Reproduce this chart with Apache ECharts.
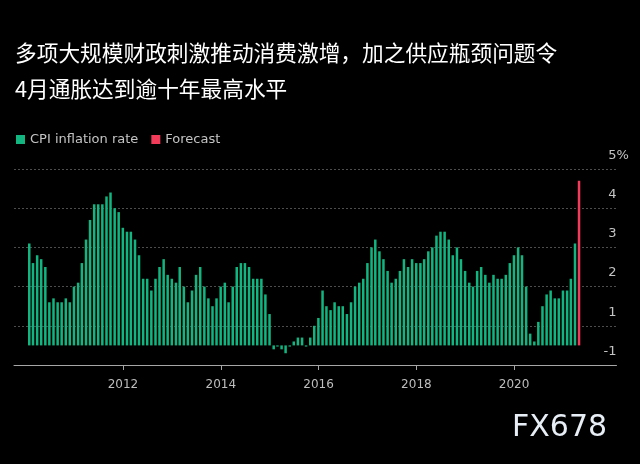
<!DOCTYPE html>
<html>
<head>
<meta charset="utf-8">
<script src="https://cdn.jsdelivr.net/npm/echarts@6.0.0/dist/echarts.min.js"></script>
<style>
html,body{margin:0;padding:0;background:#000;}
#chart{width:640px;height:464px;}
</style>
</head>
<body>
<div id="chart"></div>
<script>
// ---- data ----
const titleLines = ['多项大规模财政刺激推动消费激增，加之供应瓶颈问题令', '4月通胀达到逾十年最高水平'];
const seriesNames = ['CPI inflation rate', 'Forecast'];
const startYear = 2010; // first bar: Jan 2010
const cpi2010 = [2.6, 2.1, 2.3, 2.2, 2.0, 1.1, 1.2, 1.1, 1.1, 1.2, 1.1, 1.5];
const cpi2011 = [1.6, 2.1, 2.7, 3.2, 3.6, 3.6, 3.6, 3.8, 3.9, 3.5, 3.4, 3.0];
const cpi2012 = [2.9, 2.9, 2.7, 2.3, 1.7, 1.7, 1.4, 1.7, 2.0, 2.2, 1.8, 1.7];
const cpi2013 = [1.6, 2.0, 1.5, 1.1, 1.4, 1.8, 2.0, 1.5, 1.2, 1.0, 1.2, 1.5];
const cpi2014 = [1.6, 1.1, 1.5, 2.0, 2.1, 2.1, 2.0, 1.7, 1.7, 1.7, 1.3, 0.8];
const cpi2015 = [-0.1, -0.03, -0.1, -0.2, -0.03, 0.1, 0.2, 0.2, -0.03, 0.2, 0.5, 0.7];
const cpi2016 = [1.4, 1.0, 0.9, 1.1, 1.0, 1.0, 0.8, 1.1, 1.5, 1.6, 1.7, 2.1];
const cpi2017 = [2.5, 2.7, 2.4, 2.2, 1.9, 1.6, 1.7, 1.9, 2.2, 2.0, 2.2, 2.1];
const cpi2018 = [2.1, 2.2, 2.4, 2.5, 2.8, 2.9, 2.9, 2.7, 2.3, 2.5, 2.2, 1.9];
const cpi2019 = [1.6, 1.5, 1.9, 2.0, 1.8, 1.6, 1.8, 1.7, 1.7, 1.8, 2.1, 2.3];
const cpi2020 = [2.5, 2.3, 1.5, 0.3, 0.1, 0.6, 1.0, 1.3, 1.4, 1.2, 1.2, 1.4];
const cpi2021 = [1.4, 1.7, 2.6];
const forecastMonth = '2021-04';
const forecastValue = 4.2;
const xTickYears = [2012, 2014, 2016, 2018, 2020];
const yTickValues = [-0.5, 0.5, 1.5, 2.5, 3.5, 4.5];
const yTickLabels = ['-1', '1', '2', '3', '4', '5%'];

// ---- build ----
const cpiAll = [].concat(cpi2010, cpi2011, cpi2012, cpi2013, cpi2014, cpi2015,
  cpi2016, cpi2017, cpi2018, cpi2019, cpi2020, cpi2021);
function monthEnd(y, m) { return Date.UTC(y, m + 1, 0); } // m: 0-based
const cpiData = cpiAll.map((v, i) => [monthEnd(startYear + Math.floor(i / 12), i % 12), v]);
const fy = +forecastMonth.slice(0, 4), fm = +forecastMonth.slice(5, 7) - 1;
const forecastData = [[monthEnd(fy, fm), forecastValue]];
const xTicks = xTickYears.map(y => Date.UTC(y, 0, 1));

const GREEN = '#12b580';
const RED = '#f23b58';
const LABEL_FONT = '"DejaVu Sans", sans-serif';

const chart = echarts.init(document.getElementById('chart'), null, {renderer: 'canvas'});
chart.setOption({
  backgroundColor: '#000',
  animation: false,
  title: {
    text: titleLines.join('\n'),
    left: 10, top: 30,
    textStyle: {color: '#ffffff', fontSize: 21.7, lineHeight: 36, fontWeight: 'normal',
      fontFamily: '"Noto Sans CJK SC", sans-serif'}
  },
  legend: {
    left: 11, top: 128,
    icon: 'rect', itemWidth: 9, itemHeight: 9, itemGap: 13,
    textStyle: {color: '#c4c4c4', fontSize: 13, fontFamily: LABEL_FONT},
    data: seriesNames
  },
  grid: {left: 14, right: 23.5, top: 169, bottom: 99, containLabel: false},
  xAxis: {
    type: 'value',
    min: Date.UTC(2009, 9, 9),
    max: Date.UTC(2022, 1, 4),
    axisLine: {show: true, onZero: false, lineStyle: {color: '#a6a6a6', width: 1}},
    axisTick: {show: true, customValues: xTicks, length: 5, lineStyle: {color: '#a6a6a6'}},
    axisLabel: {show: true, customValues: xTicks, color: '#bdbdbd', fontSize: 12, margin: 14,
      fontFamily: LABEL_FONT,
      formatter: v => String(new Date(v).getUTCFullYear())},
    splitLine: {show: false}
  },
  yAxis: {
    type: 'value',
    position: 'right',
    min: -0.5, max: 4.5, interval: 1,
    offset: -14,
    axisLine: {show: false},
    axisTick: {show: false},
    splitLine: {show: true, lineStyle: {color: '#4d4d4d', type: [2, 2], width: 1}},
    axisLabel: {
      margin: 0,
      color: '#c4c4c4', fontSize: 13, fontFamily: LABEL_FONT,
      verticalAlign: 'bottom', lineHeight: 13, padding: [0, 0, 7, 0],
      formatter: v => {
        const i = yTickValues.findIndex(t => Math.abs(t - v) < 1e-6);
        if (i < 0) return '';
        const s = yTickLabels[i];
        const m = s.match(/^(-?\d+)(.*)$/);
        return '{n|' + m[1] + '}' + (m[2] ? '{p|' + m[2] + '}' : '');
      },
      rich: {
        n: {width: 14, align: 'right', color: '#c4c4c4', fontSize: 13, fontFamily: LABEL_FONT},
        p: {align: 'right', color: '#c4c4c4', fontSize: 13, fontFamily: LABEL_FONT}
      }
    }
  },
  series: [
    {name: seriesNames[0], type: 'bar', data: cpiData, barWidth: 2.5, barGap: '-100%',
      itemStyle: {color: GREEN}},
    {name: seriesNames[1], type: 'bar', data: forecastData, barWidth: 2.5, barGap: '-100%',
      itemStyle: {color: RED}}
  ],
  graphic: [{
    type: 'text', left: 512, top: 413,
    style: {text: 'FX678', fill: '#e8eef6', font: '30px "DejaVu Sans"',
      shadowColor: 'rgba(120,90,60,0.8)', shadowBlur: 2}
  }]
});
</script>
</body>
</html>
